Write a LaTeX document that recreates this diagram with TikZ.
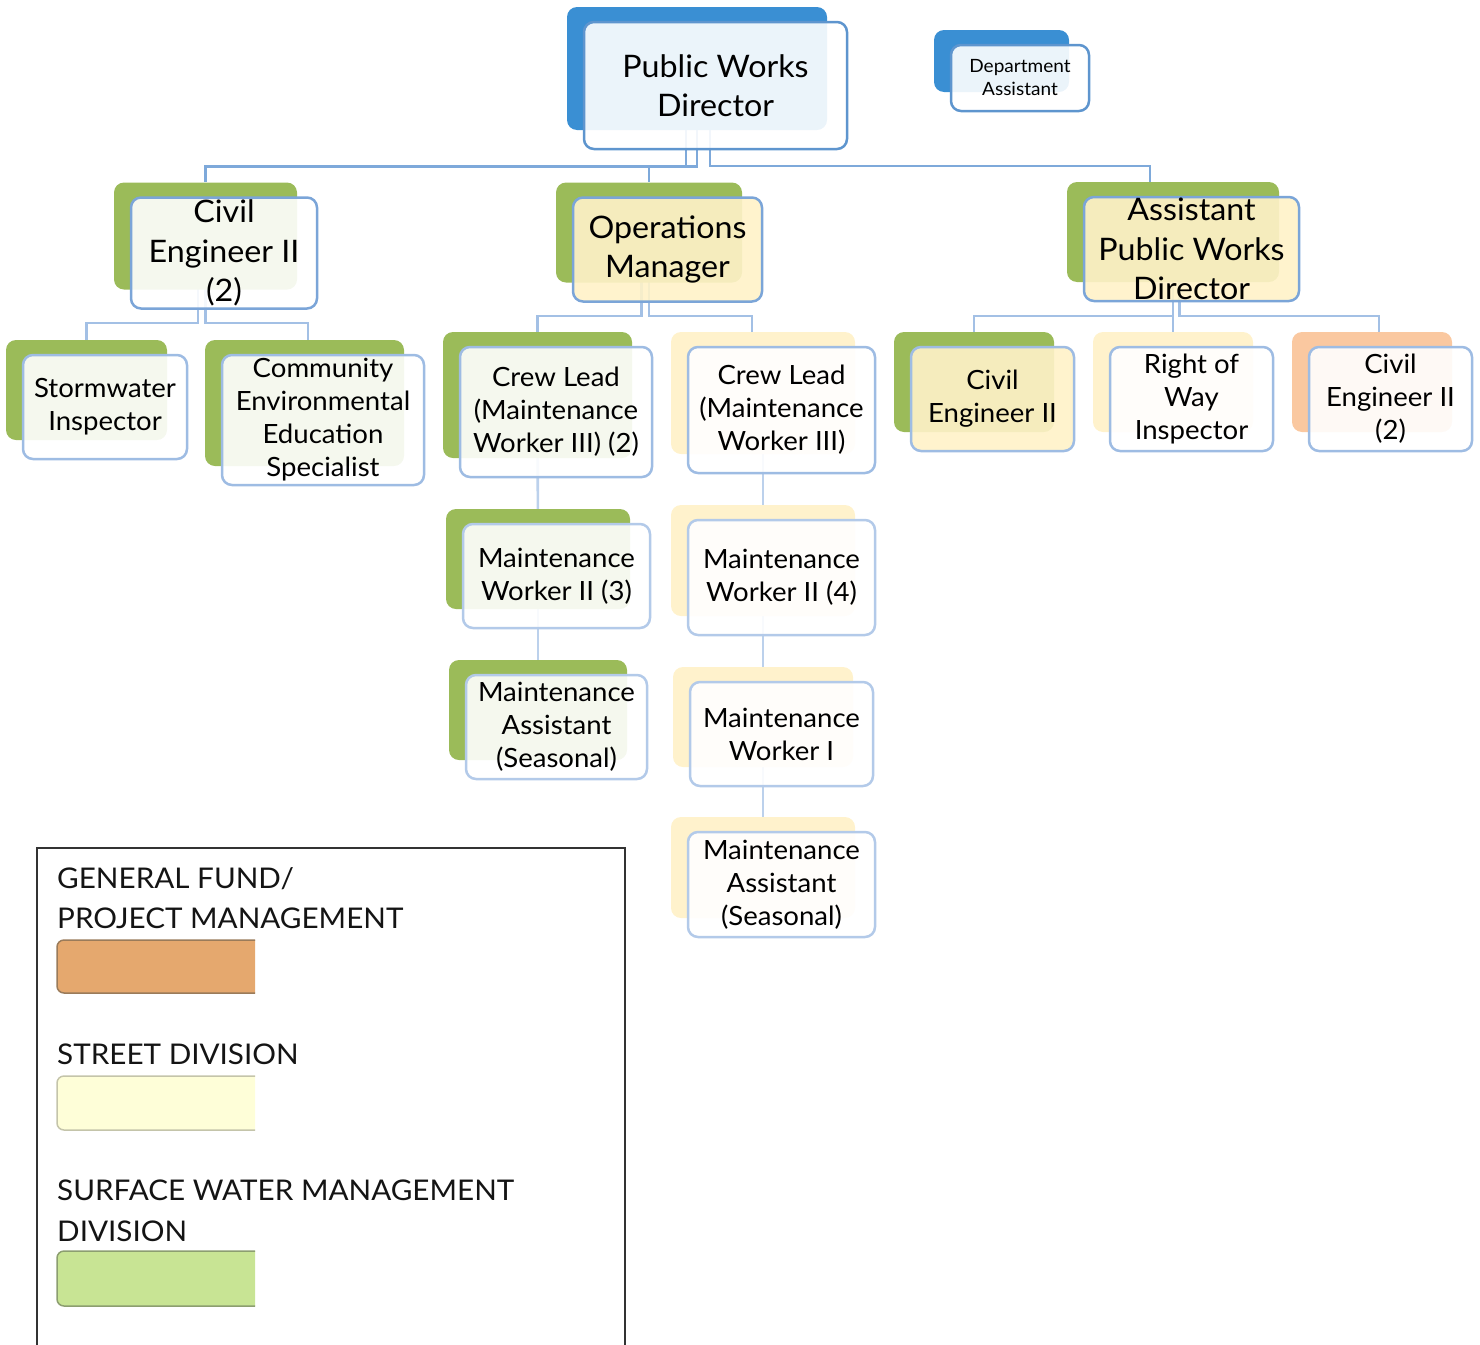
\documentclass[tikz,border=0pt]{standalone}
\usepackage{fontspec}
\setmainfont{Lato}[FakeStretch=1.04]
\usetikzlibrary{calc}

\definecolor{blueback}{HTML}{3A8FD3}
\definecolor{greenback}{HTML}{9BBB59}
\definecolor{streetback}{HTML}{FFF2CC}
\definecolor{peachback}{HTML}{FAC8A0}
\definecolor{yellowfront}{HTML}{FFF2C8}
\definecolor{edgeA}{HTML}{5E95CE}
\definecolor{edgeB}{HTML}{7BA5D8}
\definecolor{edgeC}{HTML}{9EBCE3}
\definecolor{edgeD}{HTML}{B3CAE9}
\definecolor{linkA}{HTML}{7EA9DA}
\definecolor{linkB}{HTML}{A3C0E5}
\definecolor{linkC}{HTML}{BCD1EC}
\definecolor{swOrange}{HTML}{E5A86E}
\definecolor{swOrangeEdge}{HTML}{9A7B5A}
\definecolor{swYellow}{HTML}{FEFED8}
\definecolor{swYellowEdge}{HTML}{C4C4AA}
\definecolor{swGreen}{HTML}{C8E494}
\definecolor{swGreenEdge}{HTML}{8C9E70}

\newcommand\fbig{\fontsize{31}{39.5}\selectfont}
\newcommand\fmid{\fontsize{26.5}{33}\selectfont}
\newcommand\fsmall{\fontsize{18.3}{23}\selectfont}
\newcommand\flegend{\fontsize{28.5}{40.5}\selectfont}

\pgfdeclarelayer{lines}
\pgfdeclarelayer{backs}
\pgfsetlayers{lines,backs,main}

\tikzset{
  front/.style={rectangle, rounded corners=10pt, line width=2.5pt, fill=white,
    fill opacity=0.9, text opacity=1, inner sep=0pt, align=center, text=black},
  backbox/.style={rectangle, rounded corners=10pt, draw=none, inner sep=0pt},
  conn/.style={line width=2.6pt},
  legendtext/.style={anchor=north west, inner sep=0pt, align=left, font=\flegend, text=black!92}
}

% #1 name, #2 centre of the framed box, #3 width, #4 height,
% #5 colour of the tab behind it, #6 extra style of the framed box, #7 title
\newcommand\orgunit[7]{%
  \node[front, #6, minimum width=#3, minimum height=#4] (#1) at (#2) {#7};
  \begin{pgfonlayer}{backs}
    \node[backbox, fill=#5, minimum width=#3-3, minimum height=#4-4]
      (#1b) at ([xshift=-18.5pt,yshift=17pt]#1.center) {};
  \end{pgfonlayer}}

\begin{document}
\begin{tikzpicture}[x=1pt,y=-1pt]
\useasboundingbox (0,0) rectangle (1480,1344);

% ---- top level
\orgunit{dir}{715.5,85.5}{263}{127}{blueback}{draw=edgeA, font=\fbig}{Public Works\\Director}
\orgunit{dept}{1020,78}{138}{66}{blueback}{draw=edgeA, font=\fsmall}{Department\\Assistant}

% ---- second level
\orgunit{ceL}{224,253}{186}{111}{greenback}{draw=edgeB, font=\fbig}{Civil\\Engineer II\\(2)}
\orgunit{ops}{667.5,249.5}{189}{104}{greenback}{draw=edgeB, fill=yellowfront, font=\fbig}{Operations\\Manager}
\orgunit{apwd}{1191.5,249}{215}{104}{greenback}{draw=edgeB, fill=yellowfront, font=\fbig}{Assistant\\Public Works\\Director}

% ---- under the civil engineer
\orgunit{storm}{105,407}{164}{104}{greenback}{draw=edgeC, font=\fmid}{Stormwater\\Inspector}
\orgunit{cees}{323,420}{202}{130}{greenback}{draw=edgeC, font=\fmid}{Community\\Environmental\\Education\\Specialist}

% ---- under the operations manager
\orgunit{crewL}{556,412}{192}{130}{greenback}{draw=edgeC, font=\fmid}{Crew Lead\\(Maintenance\\Worker III) (2)}
\orgunit{crewR}{781.5,410}{187}{126}{streetback}{draw=edgeC, font=\fmid}{Crew Lead\\(Maintenance\\Worker III)}
\orgunit{mwL}{556.5,576}{187}{104}{greenback}{draw=edgeD, font=\fmid}{Maintenance\\Worker II (3)}
\orgunit{maL}{556.5,727}{181}{104}{greenback}{draw=edgeD, font=\fmid}{Maintenance\\Assistant\\(Seasonal)}
\orgunit{mwR}{781.5,577.5}{187}{115}{streetback}{draw=edgeD, font=\fmid}{Maintenance\\Worker II (4)}
\orgunit{mwI}{781.5,734}{183}{104}{streetback}{draw=edgeD, font=\fmid}{Maintenance\\Worker I}
\orgunit{maR}{781.5,884.5}{187}{105}{streetback}{draw=edgeD, font=\fmid}{Maintenance\\Assistant\\(Seasonal)}

% ---- under the assistant director
\orgunit{ceM}{992.5,399}{163}{104}{greenback}{draw=edgeC, fill=yellowfront, font=\fmid}{Civil\\Engineer II}
\orgunit{row}{1191.5,399}{163}{104}{streetback}{draw=edgeC, font=\fmid}{Right of\\Way\\Inspector}
\orgunit{ceR}{1390.5,399}{163}{104}{peachback}{draw=edgeC, font=\fmid}{Civil\\Engineer II\\(2)}

% ---- reporting lines
\begin{pgfonlayer}{lines}
  \draw[conn, linkA] ([xshift=-11pt]dirb.center) |- ([yshift=16pt]ceLb.north) -- (ceLb.north);
  \draw[conn, linkA] (dirb.center) |- ([yshift=16pt]opsb.north) -- (opsb.north);
  \draw[conn, linkA] ([xshift=13pt]dirb.center) |- ([xshift=-23pt,yshift=16pt]apwdb.north) -- ([xshift=-23pt]apwdb.north);

  \draw[conn, linkB] ([xshift=-7.5pt]ceLb.center) |- ([yshift=17pt]stormb.north) -- (stormb.north);
  \draw[conn, linkB] (ceLb.center) |- ([xshift=3.5pt,yshift=17pt]ceesb.north) -- ([xshift=3.5pt]ceesb.north);

  \draw[conn, linkB] ([xshift=-7.5pt]opsb.center) |- ([yshift=16pt]crewLb.north) -- (crewLb.north);
  \draw[conn, linkB] (opsb.center) |- ([xshift=-11pt,yshift=16pt]crewRb.north) -- ([xshift=-11pt]crewRb.north);

  \draw[conn, linkB] (apwdb.center) |- ([yshift=16pt]ceMb.north) -- (ceMb.north);
  \draw[conn, linkB] (apwdb.center) -- (rowb.north);
  \draw[conn, linkB] ([xshift=6.5pt]apwdb.center) |- ([xshift=7pt,yshift=16pt]ceRb.north) -- ([xshift=7pt]ceRb.north);

  \draw[conn, linkC] (crewLb.center) -- (mwLb.center);
  \draw[conn, linkC] (mwLb.center) -- (maLb.center);
  \draw[conn, linkC] (crewRb.center) -- (mwRb.center);
  \draw[conn, linkC] (mwRb.center) -- (mwIb.center);
  \draw[conn, linkC] (mwIb.center) -- (maRb.center);
\end{pgfonlayer}

% ---- legend
\draw[line width=1.4pt, black!80] (37,1350) |- (625,848) -- (625,1350);

\node[legendtext] (lgfund) at (57,867) {GENERAL FUND/\\PROJECT MANAGEMENT};
\node[legendtext] (lgstreet) at (57,1044) {STREET DIVISION};
\node[legendtext] (lgswm) at (57,1180) {SURFACE WATER MANAGEMENT\\DIVISION};

\begin{scope}
  \clip (50,900) rectangle (255,1320);
  \draw[fill=swOrange, draw=swOrangeEdge, line width=1.5pt, rounded corners=7pt] (57,940) rectangle (275,993);
  \draw[fill=swYellow, draw=swYellowEdge, line width=1.5pt, rounded corners=7pt] (57,1076) rectangle (275,1130);
  \draw[fill=swGreen, draw=swGreenEdge, line width=1.5pt, rounded corners=7pt] (57,1251) rectangle (275,1306);
\end{scope}
\end{tikzpicture}
\end{document}
